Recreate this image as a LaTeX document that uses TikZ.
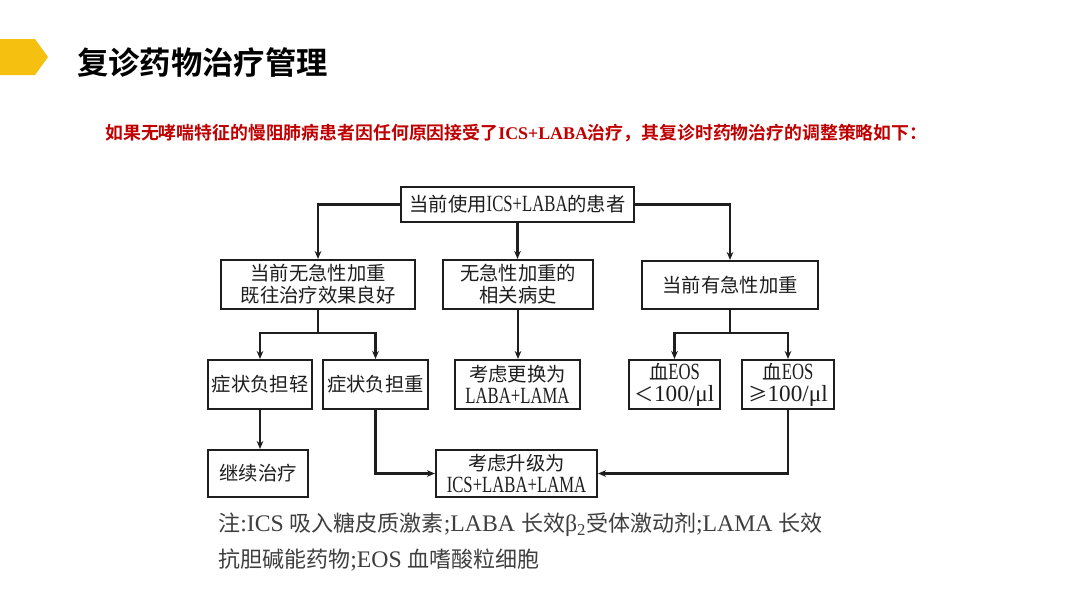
\documentclass[tikz,border=0pt]{standalone}
\usepackage{fontspec}
\setmainfont{Noto Sans CJK SC}[BoldFont={Noto Sans CJK SC Bold}]
\newfontfamily\lat{Liberation Serif}[Scale=1.2,FakeStretch=0.72]
\newfontfamily\latb{Liberation Serif}[Scale=1.2]
\newfontfamily\latn{Liberation Serif}
\newfontfamily\latm{Liberation Serif}[Scale=1.08]
\usetikzlibrary{arrows.meta}
\definecolor{ylw}{HTML}{F5C00F}
\definecolor{dred}{HTML}{C00000}
\definecolor{ink}{HTML}{1E1E1E}
\definecolor{notegray}{HTML}{3F3F3F}
\begin{document}
\begin{tikzpicture}[x=0.75pt,y=-0.75pt,
  box/.style={draw=ink,line width=1.6pt,inner sep=0pt,align=center,text=ink,
    font=\fontsize{14.5}{16.5}\selectfont},
  bx/.style n args={2}{minimum width=#1*0.75pt,minimum height=#2*0.75pt},
  arr/.style={draw=ink,line width=1.6pt,-{Stealth[length=6pt,width=5pt]}},
  ln/.style={draw=ink,line width=1.6pt}]
\useasboundingbox[fill=white] (0,0) rectangle (1080,608);

% header
\fill[ylw] (0,39) -- (35,39) -- (48,57) -- (35,75) -- (0,75) -- cycle;
\node[anchor=west,inner sep=0pt,font=\fontsize{23.5}{26}\selectfont\bfseries] (title) at (77,62) {复诊药物治疗管理};
\node[anchor=west,inner sep=0pt,text=dred,font=\fontsize{13.4}{15}\selectfont\bfseries] (sub) at (105,133)
  {如果无哮喘特征的慢阻肺病患者因任何原因接受了{\latn\bfseries ICS+LABA}治疗，其复诊时药物治疗的调整策略如下：};

% boxes
\node[box,bx={233}{35}] (top) at (517.5,204.5) {当前使用{\lat ICS+LABA}的患者};
\node[box,bx={194}{49}] (b1) at (318,284.5) {当前无急性加重\\既往治疗效果良好};
\node[box,bx={150}{49}] (b2) at (518,284.5) {无急性加重的\\相关病史};
\node[box,bx={176}{48}] (b3) at (730,285) {当前有急性加重};
\node[box,bx={104}{49}] (b4) at (260,384.5) {症状负担轻};
\node[box,bx={105}{49}] (b5) at (375.5,384.5) {症状负担重};
\node[box,bx={125}{49}] (b6) at (517.5,384.5) {考虑更换为\\{\lat LABA+LAMA}};
\node[box,bx={91}{49}] (b7) at (674.5,384.5) {血{\lat EOS}\\＜{\latb 100/μl}};
\node[box,bx={92}{49}] (b8) at (788,384.5) {血{\lat EOS}\\≥{\latb 100/μl}};
\node[box,bx={100}{47}] (b9) at (258,473.5) {继续治疗};
\node[box,bx={161}{47}] (b10) at (516.5,473.5) {考虑升级为\\{\lat ICS+LABA+LAMA}};

% connectors
\coordinate (s1) at (318,333);
\coordinate (s3) at (730,333);
\draw[arr] (top.west) -| (b1.north);
\draw[arr] (top.east) -| (b3.north);
\draw[arr] (top.south) -- (top.south |- b2.north);
\draw[ln] (b1.south) -- (s1);
\draw[arr] (s1) -| (b4.north);
\draw[arr] (s1) -| (b5.north);
\draw[arr] (b2.south) -- (b2.south |- b6.north);
\draw[ln] (b3.south) -- (s3);
\draw[arr] (s3) -| (b7.north);
\draw[arr] (s3) -| (b8.north);
\draw[arr] (b4.south) -- (b4.south |- b9.north);
\draw[arr] (b5.south) |- (b10.west);
\draw[arr] (b8.south) |- (b10.east);

% notes
\node[anchor=west,inner sep=0pt,text=notegray,font=\fontsize{16.5}{19}\selectfont] (n1) at (218,525)
  {注{\latm :ICS }吸入糖皮质激素{\latm ;LABA }长效{\latm β\textsubscript{2}}受体激动剂{\latm ;LAMA }长效};
\node[anchor=west,inner sep=0pt,text=notegray,font=\fontsize{16.5}{19}\selectfont] (n2) at (218,560)
  {抗胆碱能药物{\latm ;EOS }血嗜酸粒细胞};
\end{tikzpicture}
\end{document}
